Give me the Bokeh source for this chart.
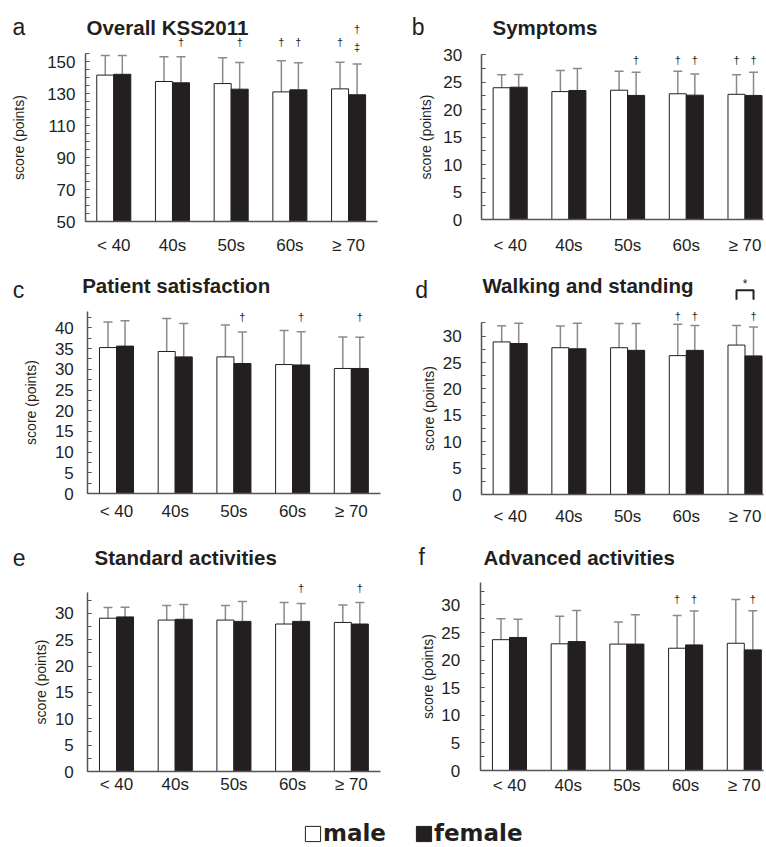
from bokeh.plotting import figure
from bokeh.models import (ColumnDataSource, Whisker, TeeHead, FixedTicker, Label,
                          Range1d, Legend, LegendItem)
from bokeh.layouts import column, row
from bokeh.embed import file_html
from bokeh.resources import INLINE
from bokeh.core.properties import value

groups = ["< 40", "40s", "50s", "60s", "≥ 70"]

# a: Overall KSS2011
a_male = [141.5, 137.5, 136.2, 131.0, 132.9]
a_male_sd_top = [153.7, 153.0, 152.3, 150.4, 149.6]
a_female = [142.0, 136.7, 132.7, 132.3, 129.2]
a_female_sd_top = [153.7, 153.0, 149.4, 149.2, 148.5]

# b: Symptoms
b_male = [24.0, 23.3, 23.55, 22.9, 22.8]
b_male_sd_top = [26.35, 27.15, 27.0, 27.0, 26.35]
b_female = [24.1, 23.5, 22.6, 22.65, 22.6]
b_female_sd_top = [26.4, 27.5, 26.8, 26.5, 26.8]

# c: Patient satisfaction
c_male = [35.25, 34.3, 33.0, 31.15, 30.2]
c_male_sd_top = [41.45, 42.25, 40.7, 39.35, 37.8]
c_female = [35.6, 33.0, 31.4, 31.05, 30.2]
c_female_sd_top = [41.7, 41.05, 39.0, 39.1, 37.75]

# d: Walking and standing
d_male = [28.9, 27.8, 27.8, 26.3, 28.3]
d_male_sd_top = [31.95, 31.9, 32.4, 32.25, 32.0]
d_female = [28.6, 27.6, 27.3, 27.3, 26.25]
d_female_sd_top = [32.45, 32.45, 32.4, 32.0, 31.7]

# e: Standard activities
e_male = [29.1, 28.75, 28.75, 28.0, 28.3]
e_male_sd_top = [31.15, 31.5, 31.5, 32.1, 31.6]
e_female = [29.35, 28.9, 28.5, 28.5, 28.0]
e_female_sd_top = [31.2, 31.7, 32.3, 31.9, 32.1]

# f: Advanced activities
f_male = [23.7, 22.95, 22.9, 22.15, 23.05]
f_male_sd_top = [27.5, 27.95, 26.9, 28.1, 31.0]
f_female = [24.1, 23.35, 22.9, 22.75, 21.85]
f_female_sd_top = [27.4, 29.0, 28.2, 28.9, 28.95]

# significance marks: (group index, sex, symbol, y level)
a_marks = [(1, "f", "†", 162), (2, "f", "†", 162), (3, "m", "†", 162), (3, "f", "†", 162),
           (4, "m", "†", 162), (4, "f", "†", 170.4), (4, "f", "‡", 159.3)]
b_marks = [(2, "f", "†", 29.0), (3, "m", "†", 29.0), (3, "f", "†", 29.0),
           (4, "m", "†", 29.0), (4, "f", "†", 29.0)]
c_marks = [(2, "f", "†", 42.65), (3, "f", "†", 42.65), (4, "f", "†", 42.65)]
d_marks = [(3, "m", "†", 33.8), (3, "f", "†", 33.8), (4, "f", "†", 33.8)]
e_marks = [(3, "f", "†", 34.8), (4, "f", "†", 34.8)]
f_marks = [(3, "m", "†", 31.1), (3, "f", "†", 31.1), (4, "f", "†", 31.1)]
d_bracket = dict(group=4, top=38.7, leg=36.9, star=39.8)

INK = "#231f20"
GREY = "#8a8a8a"
AXIS = "#555555"
FONT = "Liberation Sans"
HALF = 0.145
BAR_W = 0.29


def make_panel(male, male_top, female, female_top, y0, ppu, base_px, y_top, major, minor,
               x_start, x_end, spine_x, x_bound, width, height,
               lab_standoff, axlab_standoff, x_standoff,
               letter, letter_xy, title, title_xy, marks):
    y_start = y0 - base_px / ppu
    y_end = y0 + (height - base_px) / ppu
    p = figure(width=width, height=height, x_range=Range1d(x_start, x_end),
               y_range=Range1d(y_start, y_end), output_backend="svg",
               toolbar_location=None, min_border=0, title=None)
    p.outline_line_color = None
    p.grid.visible = False
    p.background_fill_color = "white"
    p.border_fill_color = "white"

    xm = [i - HALF for i in range(len(groups))]
    xf = [i + HALF for i in range(len(groups))]
    p.vbar(x=xm, top=male, bottom=y0, width=BAR_W, fill_color="white",
           line_color=INK, line_width=1)
    p.vbar(x=xf, top=female, bottom=y0, width=BAR_W, fill_color=INK,
           line_color=INK, line_width=1)
    for xs, lo, hi in ((xm, male, male_top), (xf, female, female_top)):
        src = ColumnDataSource(dict(x=xs, lower=lo, upper=hi))
        p.add_layout(Whisker(source=src, base="x", lower="lower", upper="upper",
                             dimension="height", line_color=GREY, line_width=1.5,
                             lower_head=None,
                             upper_head=TeeHead(size=9, line_color=GREY, line_width=1.5)))

    if marks:
        mx = [g + (-HALF if s == "m" else HALF) for g, s, _, _ in marks]
        my = [m[3] for m in marks]
        mt = [m[2] for m in marks]
        p.text(x=mx, y=my, text=mt, text_font=value(FONT), text_font_size="11px",
               text_align="center", text_baseline="middle", text_color=INK)

    ya = p.yaxis[0]
    ya.fixed_location = spine_x
    ya.ticker = FixedTicker(ticks=major, minor_ticks=minor)
    ya.bounds = (y0, y_top)
    ya.axis_line_color = AXIS
    ya.axis_line_width = 1.5
    ya.major_tick_in = 4
    ya.major_tick_out = 0
    ya.minor_tick_in = 4
    ya.minor_tick_out = 0
    ya.major_tick_line_color = AXIS
    ya.minor_tick_line_color = AXIS
    ya.major_tick_line_width = 1.2
    ya.minor_tick_line_width = 1.2
    ya.major_label_text_font = FONT
    ya.major_label_text_font_size = "17px"
    ya.major_label_text_color = INK
    ya.major_label_standoff = lab_standoff
    ya.axis_label = "score (points)"
    ya.axis_label_text_font = FONT
    ya.axis_label_text_font_size = "14px"
    ya.axis_label_text_font_style = "normal"
    ya.axis_label_text_color = INK
    ya.axis_label_standoff = axlab_standoff

    xa = p.xaxis[0]
    xa.fixed_location = y0
    xa.ticker = FixedTicker(ticks=list(range(len(groups))))
    xa.major_label_overrides = {i: g for i, g in enumerate(groups)}
    xa.bounds = (spine_x, x_bound)
    xa.axis_line_color = AXIS
    xa.axis_line_width = 1.5
    xa.major_tick_line_color = None
    xa.minor_tick_line_color = None
    xa.major_label_text_font = FONT
    xa.major_label_text_font_size = "17px"
    xa.major_label_text_color = INK
    xa.major_label_standoff = x_standoff

    # letter / title positions are given from the figure's top-left corner
    p.add_layout(Label(x=letter_xy[0], y=height - letter_xy[1], x_units="screen",
                       y_units="screen", text=letter, text_font=FONT,
                       text_font_size="23px", text_color=INK, text_baseline="alphabetic"))
    p.add_layout(Label(x=title_xy[0], y=height - title_xy[1], x_units="screen",
                       y_units="screen", text=title, text_font=FONT,
                       text_font_size="20.5px", text_font_style="bold", text_color=INK,
                       text_baseline="alphabetic"))
    return p


def ticks(start, stop, step):
    out = []
    v = start
    while v <= stop + 1e-9:
        out.append(round(v, 3))
        v += step
    return out


pa = make_panel(a_male, a_male_sd_top, a_female, a_female_sd_top,
                50, 1.6, 41, 155, ticks(50, 150, 20), ticks(50, 155, 5),
                -1.930, 4.595, -0.482, 4.492, 383, 262, 10, 17, 8,
                "a", (12, 26.7), "Overall KSS2011", (86, 26.7), a_marks)
pb = make_panel(b_male, b_male_sd_top, b_female, b_female_sd_top,
                0, 5.49, 43, 30, ticks(0, 30, 5), ticks(0, 30, 2.5),
                -2.158, 4.366, -0.494, 4.315, 383, 262, 19, 7, 10,
                "b", (28.3, 26.7), "Symptoms", (109, 26.7), b_marks)
pc = make_panel(c_male, c_male_sd_top, c_female, c_female_sd_top,
                0, 4.14, 37, 43.9, ticks(0, 40, 5), ticks(0, 42.5, 2.5),
                -1.976, 4.548, -0.489, 4.497, 383, 268, 14, 13, 2,
                "c", (12.3, 27.3), "Patient satisfaction", (81.7, 23), c_marks)
pd_ = make_panel(d_male, d_male_sd_top, d_female, d_female_sd_top,
                 0, 5.28, 36, 32.5, ticks(0, 30, 5), ticks(0, 32.5, 2.5),
                 -2.158, 4.366, -0.484, 4.315, 383, 268, 20, 3, 6,
                 "d", (31.7, 27.3), "Walking and standing", (99, 23), d_marks)
g = d_bracket["group"]
pd_.line(x=[g - HALF, g - HALF, g + HALF, g + HALF],
         y=[d_bracket["leg"], d_bracket["top"], d_bracket["top"], d_bracket["leg"]],
         line_color=INK, line_width=2)
pd_.text(x=[g], y=[d_bracket["star"]], text=["*"], text_font=value(FONT),
         text_font_size="12px", text_align="center", text_baseline="middle",
         text_color=INK)
pe = make_panel(e_male, e_male_sd_top, e_female, e_female_sd_top,
                0, 5.267, 35, 33.9, ticks(0, 30, 5), ticks(0, 32.5, 2.5),
                -1.976, 4.548, -0.489, 4.497, 383, 276, 14, 3, -3,
                "e", (12.3, 26.7), "Standard activities", (94, 26.7), e_marks)
pf = make_panel(f_male, f_male_sd_top, f_female, f_female_sd_top,
                0, 5.52, 36, 34.0, ticks(0, 30, 5), ticks(0, 32.5, 2.5),
                -2.146, 4.378, -0.499, 4.327, 383, 276, 20, 3, -1,
                "f", (35, 26.7), "Advanced activities", (100, 26.7), f_marks)

lg = figure(width=766, height=40, x_range=Range1d(0, 1), y_range=Range1d(0, 1),
            output_backend="svg", toolbar_location=None, min_border=0, title=None,
            x_axis_location=None, y_axis_location=None)
lg.outline_line_color = None
lg.grid.visible = False
r1 = lg.vbar(x=[0.5], top=[-1], bottom=-2, width=0.1, fill_color="white",
             line_color=INK, line_width=1)
r2 = lg.vbar(x=[0.5], top=[-1], bottom=-2, width=0.1, fill_color=INK,
             line_color=INK, line_width=1)
legend = Legend(items=[LegendItem(label="male", renderers=[r1]),
                       LegendItem(label="female", renderers=[r2])],
                orientation="horizontal", location=(303, 0), glyph_width=19, glyph_height=19,
                label_text_font="DejaVu Sans", label_text_font_style="bold",
                label_text_font_size="23px", label_text_color=INK, label_standoff=1,
                spacing=28, padding=0, margin=0, border_line_color=None,
                background_fill_alpha=0)
lg.add_layout(legend, "center")

layout = column(row(pa, pb), row(pc, pd_), row(pe, pf), lg)
open("out.html", "w").write(file_html(layout, INLINE))
